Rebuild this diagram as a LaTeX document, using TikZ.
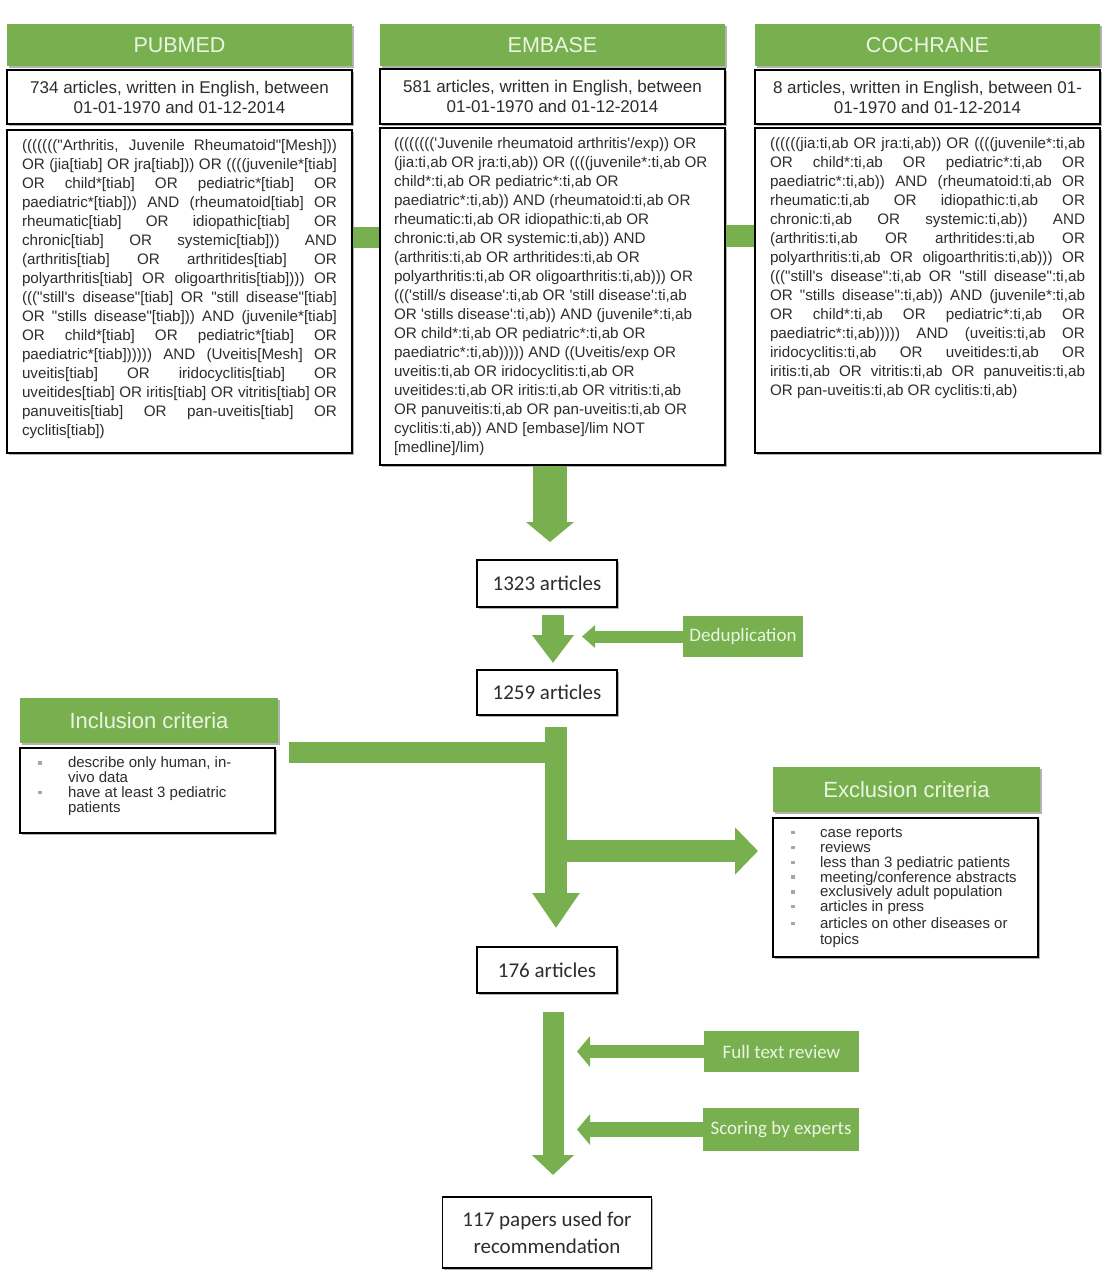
\documentclass[tikz,border=0pt]{standalone}
\usepackage{fontspec}
\setmainfont{Liberation Sans}[Ligatures=TeXOff]
\newfontfamily\calib{Carlito}
\usetikzlibrary{arrows.meta,shadows,calc}
\definecolor{gr}{RGB}{120,176,80}
\definecolor{hdrtxt}{RGB}{234,245,226}
\definecolor{txt}{RGB}{45,45,45}
\newcommand\bul{\textcolor{black!35}{\rule[0.22em]{3.5pt}{3.5pt}}}
\newcommand\jl[1]{\makebox[\linewidth][s]{#1}\par}
\newcommand\qfont{\fontsize{15.2}{19}\selectfont}
\newcommand\cfont{\fontsize{15}{14.8}\selectfont}
\begin{document}
\begin{tikzpicture}[x=1pt,y=-1pt,
  every node/.style={inner sep=0pt, outer sep=0pt},
  shad/.style={drop shadow={shadow xshift=1.5pt,shadow yshift=-2pt,opacity=.3,fill=black}},
  hdr/.style={fill=gr, shad, anchor=north west, text=hdrtxt, font=\fontsize{21.5}{24}\selectfont, minimum height=42pt},
  wbox/.style={draw=black, line width=1.3pt, fill=white, shad, anchor=north west, text=txt},
  lbl/.style={fill=gr, text=hdrtxt, font=\calib\fontsize{19}{22}\selectfont, anchor=north west},
  nbox/.style={draw=black, line width=1.3pt, fill=white, shad, font=\calib\fontsize{21}{27}\selectfont, text=txt, align=center},
  fat/.style n args={3}{draw=gr, line width=#1, -{Triangle[length=#3, width=#2]}},
  bar/.style={draw=gr, line width=#1},
]
\useasboundingbox (0,0) rectangle (1110,1280);
\fill[white] (0,0) rectangle (1110,1280);

% headers
\node[hdr, minimum width=345pt] (pubh) at (7,24) {PUBMED};
\node[hdr, minimum width=345pt] (embh) at (380,24) {EMBASE};
\node[hdr, minimum width=345pt] (cochh) at (755,24) {COCHRANE};

% count boxes
\node[wbox, minimum width=345pt, minimum height=54pt, align=center, font=\fontsize{17}{20}\selectfont] (pubc) at (7,70)
  {734 articles, written in English, between\\01-01-1970 and 01-12-2014};
\node[wbox, minimum width=345pt, minimum height=55pt, align=center, font=\fontsize{17}{20}\selectfont] (embc) at (380,69)
  {581 articles, written in English, between\\01-01-1970 and 01-12-2014};
\node[wbox, minimum width=345pt, minimum height=54pt, align=center, font=\fontsize{17}{20}\selectfont] (cochc) at (755,70)
  {8 articles, written in English, between 01-\\01-1970 and 01-12-2014};

% query boxes
\node[wbox, inner xsep=15pt, inner ysep=9pt] (pubq) at (7,130) {\parbox[t][305pt][t]{315pt}{\qfont
\jl{((((((("Arthritis, Juvenile Rheumatoid"[Mesh]))}
\jl{OR (jia[tiab] OR jra[tiab])) OR ((((juvenile*[tiab]}
\jl{OR child*[tiab] OR pediatric*[tiab] OR}
\jl{paediatric*[tiab])) AND (rheumatoid[tiab] OR}
\jl{rheumatic[tiab] OR idiopathic[tiab] OR}
\jl{chronic[tiab] OR systemic[tiab])) AND}
\jl{(arthritis[tiab] OR arthritides[tiab] OR}
\jl{polyarthritis[tiab] OR oligoarthritis[tiab]))) OR}
\jl{((("still's disease"[tiab] OR "still disease"[tiab]}
\jl{OR "stills disease"[tiab])) AND (juvenile*[tiab]}
\jl{OR child*[tiab] OR pediatric*[tiab] OR}
\jl{paediatric*[tiab]))))) AND (Uveitis[Mesh] OR}
\jl{uveitis[tiab] OR iridocyclitis[tiab] OR}
\jl{uveitides[tiab] OR iritis[tiab] OR vitritis[tiab] OR}
\jl{panuveitis[tiab] OR pan-uveitis[tiab] OR}
cyclitis[tiab])}};

\node[wbox, inner xsep=14pt, inner ysep=9pt] (embq) at (380,128) {\parbox[t][319pt][t]{317pt}{\qfont\raggedright
(((((((('Juvenile rheumatoid arthritis'/exp)) OR\\
(jia:ti,ab OR jra:ti,ab)) OR ((((juvenile*:ti,ab OR\\
child*:ti,ab OR pediatric*:ti,ab OR\\
paediatric*:ti,ab)) AND (rheumatoid:ti,ab OR\\
rheumatic:ti,ab OR idiopathic:ti,ab OR\\
chronic:ti,ab OR systemic:ti,ab)) AND\\
(arthritis:ti,ab OR arthritides:ti,ab OR\\
polyarthritis:ti,ab OR oligoarthritis:ti,ab))) OR\\
((('still/s disease':ti,ab OR 'still disease':ti,ab\\
OR 'stills disease':ti,ab)) AND (juvenile*:ti,ab\\
OR child*:ti,ab OR pediatric*:ti,ab OR\\
paediatric*:ti,ab))))) AND ((Uveitis/exp OR\\
uveitis:ti,ab OR iridocyclitis:ti,ab OR\\
uveitides:ti,ab OR iritis:ti,ab OR vitritis:ti,ab\\
OR panuveitis:ti,ab OR pan-uveitis:ti,ab OR\\
cyclitis:ti,ab)) AND [embase]/lim NOT\\\relax
[medline]/lim)}};

\node[wbox, inner xsep=15pt, inner ysep=9pt] (cochq) at (755,128) {\parbox[t][307pt][t]{315pt}{\qfont
\jl{((((((jia:ti,ab OR jra:ti,ab)) OR ((((juvenile*:ti,ab}
\jl{OR child*:ti,ab OR pediatric*:ti,ab OR}
\jl{paediatric*:ti,ab)) AND (rheumatoid:ti,ab OR}
\jl{rheumatic:ti,ab OR idiopathic:ti,ab OR}
\jl{chronic:ti,ab OR systemic:ti,ab)) AND}
\jl{(arthritis:ti,ab OR arthritides:ti,ab OR}
\jl{polyarthritis:ti,ab OR oligoarthritis:ti,ab))) OR}
\jl{((("still's disease":ti,ab OR "still disease":ti,ab}
\jl{OR "stills disease":ti,ab)) AND (juvenile*:ti,ab}
\jl{OR child*:ti,ab OR pediatric*:ti,ab OR}
\jl{paediatric*:ti,ab))))) AND (uveitis:ti,ab OR}
\jl{iridocyclitis:ti,ab OR uveitides:ti,ab OR}
\jl{iritis:ti,ab OR vitritis:ti,ab OR panuveitis:ti,ab}
OR pan-uveitis:ti,ab OR cyclitis:ti,ab)}};

% count nodes
\node[nbox, minimum width=140pt, minimum height=47pt] (n1323) at (547,583.5) {1323 articles};
\node[nbox, minimum width=140pt, minimum height=45pt] (n1259) at (547,692.5) {1259 articles};
\node[nbox, minimum width=140pt, minimum height=46pt] (n176) at (547,970) {176 articles};
\node[nbox, minimum width=209pt, minimum height=71pt] (n117) at (547,1232.5) {117 papers used for\\recommendation};

% green labels
\node[lbl, minimum width=120pt, minimum height=41pt] (dedup) at (683,616) {Deduplication};
\node[lbl, minimum width=155pt, minimum height=41pt] (ftr) at (704,1031) {Full text review};
\node[lbl, minimum width=156pt, minimum height=43pt] (sbe) at (703,1108) {Scoring by experts};

% inclusion
\node[hdr, minimum width=258pt, minimum height=45pt, font=\fontsize{22}{26}\selectfont] (inch) at (20,698) {Inclusion criteria};
\node[wbox, inner xsep=15pt, inner ysep=9pt] (incb) at (20,748) {\parbox[t][67pt][t]{225pt}{\cfont
\makebox[33pt][l]{\hspace{3pt}\bul}describe only human, in-\\
\hspace*{33pt}vivo data\\
\makebox[33pt][l]{\hspace{3pt}\bul}have at least 3 pediatric\\
\hspace*{33pt}patients}};

% exclusion
\node[hdr, minimum width=267pt, minimum height=45pt, font=\fontsize{22}{26}\selectfont] (exch) at (773,767) {Exclusion criteria};
\node[wbox, inner xsep=15pt, inner ysep=10pt] (excb) at (773,818) {\parbox[t][119pt][t]{235pt}{\cfont
\makebox[32pt][l]{\hspace{3pt}\bul}case reports\\
\makebox[32pt][l]{\hspace{3pt}\bul}reviews\\
\makebox[32pt][l]{\hspace{3pt}\bul}less than 3 pediatric patients\\
\makebox[32pt][l]{\hspace{3pt}\bul}meeting/conference abstracts\\
\makebox[32pt][l]{\hspace{3pt}\bul}exclusively adult population\\
\makebox[32pt][l]{\hspace{3pt}\bul}articles in press\\[2pt]
\makebox[32pt][l]{\hspace{3pt}\bul}articles on other diseases or\\[1pt]
\hspace*{32pt}topics}};

% connectors between query boxes
\coordinate (b1) at (0,237.5);
\coordinate (b2) at (0,236);
\draw[bar=21pt, shorten <=0.7pt, shorten >=0.7pt] (pubq.east |- b1) -- (embq.west |- b1);
\draw[bar=22pt, shorten <=0.7pt, shorten >=0.7pt] (embq.east |- b2) -- (cochq.west |- b2);

% EMBASE -> 1323
\draw[fat={34pt}{47pt}{20pt}, shorten <=0.7pt] ([xshift=3pt]n1323.north |- embq.south) -- ([xshift=3pt,yshift=18pt]n1323.north);
% 1323 -> 1259
\draw[fat={22pt}{40pt}{28pt}] ([xshift=6pt,yshift=-8pt]n1323.south) -- ([xshift=6pt,yshift=7pt]n1259.north);
% deduplication
\draw[fat={12pt}{22pt}{13pt}] (dedup.west) -- ($(dedup.west -| n1323.east)+(-35,0)$);
% 1259 -> 176
\draw[fat={22pt}{45pt}{35pt}] ([xshift=9pt,yshift=-12pt]n1259.south) -- ([xshift=9pt,yshift=19pt]n176.north);
% inclusion join
\coordinate (incs) at ($(inch.south east)+(11,9.5)$);
\coordinate (incj) at ($(n1259.south)+(9,37.5)$);
\draw[bar=21pt] (incs) -- (incj);
% exclusion branch
\coordinate (excj) at ($(n1259.south)+(9,136)$);
\draw[fat={22pt}{46pt}{23pt}] (excj) -- ($(excb.west |- excj)+(-15,0)$);
% 176 -> 117
\draw[fat={21pt}{41pt}{20pt}] ([xshift=6pt,yshift=-19pt]n176.south) -- ([xshift=6pt,yshift=22pt]n117.north);
% full text review, scoring
\draw[fat={13pt}{30pt}{13pt}] (ftr.west) -- ($(ftr.west -| n176.east)+(-40,0)$);
\draw[fat={15pt}{30pt}{13pt}] (sbe.west) -- ($(sbe.west -| n176.east)+(-40,0)$);
\end{tikzpicture}
\end{document}
